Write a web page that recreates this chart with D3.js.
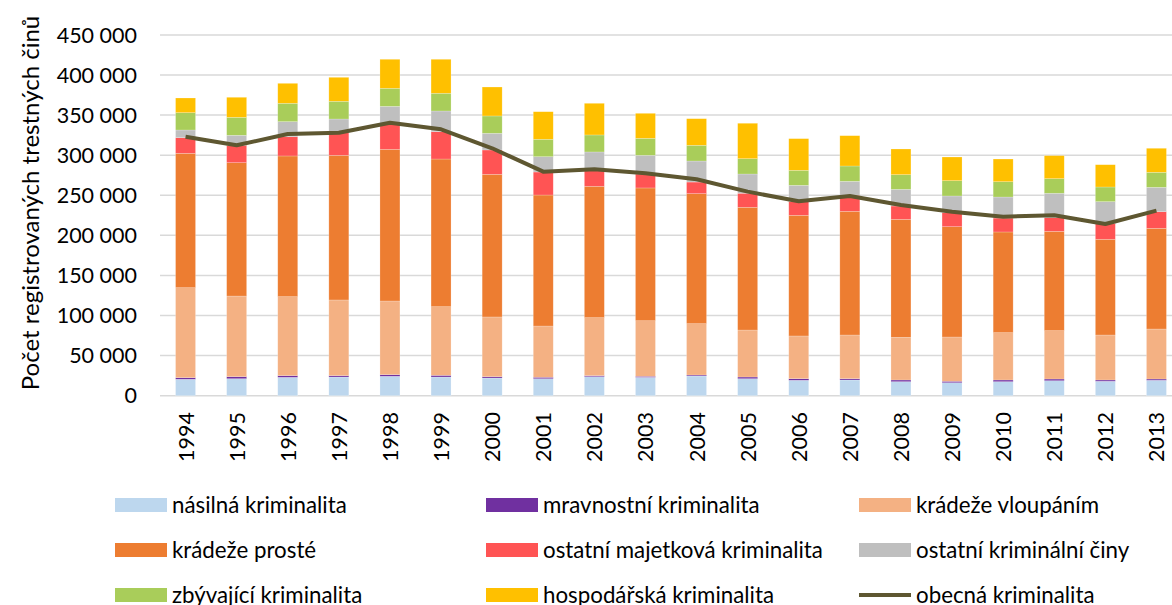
<!DOCTYPE html>
<html>
<head>
<meta charset="utf-8">
<script src="https://cdn.jsdelivr.net/npm/d3@7"></script>
<style>
  body { margin: 0; background: #fff; }
  text { font-family: Lato, "Open Sans", sans-serif; fill: #000; }
</style>
</head>
<body>
<div id="chart"></div>
<script>
const years = ["1994","1995","1996","1997","1998","1999","2000","2001","2002","2003",
               "2004","2005","2006","2007","2008","2009","2010","2011","2012","2013"]

// values (counts of registered offences)
const nasilna     = [20500,21200,22900,23300,24200,23300,22100,21200,23700,22900,24600,21200,19200,19600,17500,16200,17500,18700,18000,19200]
const mravnostni  = [1950,2500,2100,1700,2000,2100,1600,1800,1300,1300,1200,2100,2000,1600,2100,1800,2100,2100,1600,1600]
const vloupanim   = [112250,100600,98500,94400,91900,85600,74500,63900,72300,69300,64000,58600,53300,54500,53200,55200,59000,60300,56100,62400]
const proste      = [167600,166300,175500,180400,189200,184200,177900,163400,163900,165600,162200,153100,150500,154300,147200,137600,125600,123900,119400,125600]
const majetkova   = [19500,21700,24000,28200,32400,34100,30400,28700,21600,17400,14500,17500,17000,20000,16600,17500,17400,17000,19900,20700]
const ostatniCiny = [9600,12500,18800,17100,21200,25800,20800,19100,21200,23300,26200,24000,20400,17400,20800,20800,26200,30500,27000,30400]
const zbyvajici   = [21600,22400,22900,22100,22500,22100,21600,21700,21200,21200,19600,19100,18700,19100,18300,19100,19100,18200,18300,18700]
const hospodarska = [18300,25000,24900,29900,36200,42400,36100,34400,39500,31200,33200,44200,39500,37800,32000,29500,28300,28700,27800,30000]
const obecna      = [323000,312300,326400,328000,340500,332200,308600,279400,282400,277400,269900,254500,242500,249100,237900,229500,223300,225000,214200,230800]

const yTicks = [0,50000,100000,150000,200000,250000,300000,350000,400000,450000]

const seriesNames = ["násilná kriminalita","mravnostní kriminalita","krádeže vloupáním",
  "krádeže prosté","ostatní majetková kriminalita","ostatní kriminální činy",
  "zbývající kriminalita","hospodářská kriminalita"]
const seriesValues = [nasilna, mravnostni, vloupanim, proste, majetkova, ostatniCiny, zbyvajici, hospodarska]
const colors = ["#bdd7ee","#7030a0","#f4b183","#ed7d31","#ff5454","#bfbfbf","#a9cd5a","#ffc000"]
const lineName = "obecná kriminalita"
const lineColor = "#5e5731"

const W = 1172, H = 605

const svg = d3.select("#chart").append("svg")
  .attr("width", W).attr("height", H)

const table = years.map((yr, i) => {
  const row = { year: yr }
  seriesNames.forEach((n, k) => { row[n] = seriesValues[k][i] })
  return row
})

const x = d3.scaleBand()
  .domain(years)
  .range([160, 1182])
  .paddingInner(0.609)
  .paddingOuter(0.3045)

const y = d3.scaleLinear()
  .domain([0, 450000])
  .range([395.7, 34.9])

const fmt = d3.formatLocale({ decimal: ",", thousands: " ", grouping: [3], currency: ["", ""] }).format(",")

// gridlines
svg.append("g")
  .selectAll("line")
  .data(yTicks)
  .join("line")
  .attr("x1", 160).attr("x2", W)
  .attr("y1", d => y(d)).attr("y2", d => y(d))
  .attr("stroke", "#d9d9d9")
  .attr("stroke-width", 1.5)

// y tick labels
svg.append("g")
  .selectAll("text")
  .data(yTicks)
  .join("text")
  .attr("x", 137)
  .attr("y", d => y(d))
  .attr("dy", "0.36em")
  .attr("text-anchor", "end")
  .style("font-size", "21.5px")
  .text(d => fmt(d))

// y axis title
svg.append("text")
  .attr("transform", "translate(39,203) rotate(-90)")
  .attr("text-anchor", "middle")
  .style("font-size", "24px")
  .text("Počet registrovaných trestných činů")

// stacked bars
const stacked = d3.stack().keys(seriesNames)(table)
svg.append("g")
  .selectAll("g")
  .data(stacked)
  .join("g")
  .attr("fill", (d, i) => colors[i])
  .selectAll("rect")
  .data(d => d)
  .join("rect")
  .attr("x", d => x(d.data.year))
  .attr("width", x.bandwidth())
  .attr("y", d => y(d[1]))
  .attr("height", d => y(d[0]) - y(d[1]))
  .attr("stroke", "#ffffff")
  .attr("stroke-opacity", 0.35)
  .attr("stroke-width", 0.6)

// line
svg.append("path")
  .datum(obecna)
  .attr("fill", "none")
  .attr("stroke", lineColor)
  .attr("stroke-width", 4)
  .attr("stroke-linejoin", "round")
  .attr("d", d3.line()
    .x((d, i) => x(years[i]) + x.bandwidth() / 2)
    .y(d => y(d))
  )

// x tick labels
svg.append("g")
  .selectAll("text")
  .data(years)
  .join("text")
  .attr("transform", d => `translate(${x(d) + x.bandwidth() / 2 + 8},412) rotate(-90)`)
  .attr("text-anchor", "end")
  .style("font-size", "21.5px")
  .text(d => d)

// legend
const legendItems = seriesNames.map((n, i) => ({ name: n, color: colors[i], type: "rect" }))
legendItems.push({ name: lineName, color: lineColor, type: "line" })
const colX = [115, 486, 859]
const rowY = [505, 550, 595]

const leg = svg.append("g")
  .selectAll("g")
  .data(legendItems)
  .join("g")
  .attr("transform", (d, i) => `translate(${colX[i % 3]},${rowY[Math.floor(i / 3)]})`)

leg.filter(d => d.type === "rect").append("rect")
  .attr("x", 0).attr("y", -7)
  .attr("width", 52).attr("height", 14)
  .attr("fill", d => d.color)

leg.filter(d => d.type === "line").append("line")
  .attr("x1", 0).attr("x2", 52)
  .attr("y1", 0).attr("y2", 0)
  .attr("stroke", d => d.color)
  .attr("stroke-width", 4)

leg.append("text")
  .attr("x", 57)
  .attr("dy", "0.36em")
  .style("font-size", "22.3px")
  .text(d => d.name)
</script>
</body>
</html>
